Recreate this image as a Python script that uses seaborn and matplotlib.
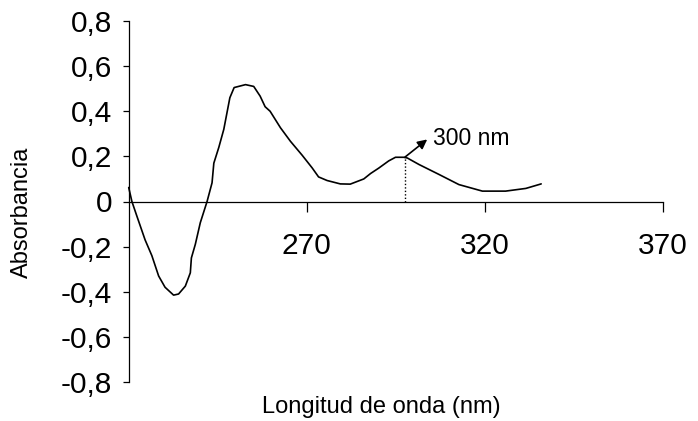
import matplotlib
matplotlib.use("Agg")
import matplotlib.pyplot as plt
import seaborn as sns
import pandas as pd

# Data
wavelength = [220.0, 220.9, 222.3, 224.6, 226.5, 228.4, 230.2, 232.6, 234.0, 235.9,
              237.3, 237.6, 238.7, 240.1, 242.0, 243.4, 243.9, 245.3, 246.7, 248.4,
              249.6, 252.8, 255.1, 256.9, 258.3, 259.7, 262.6, 265.4, 268.7, 271.5,
              273.3, 275.7, 279.4, 282.2, 286.0, 287.9, 290.2, 293.0, 294.9, 297.2,
              298.2, 301.5, 307.1, 312.7, 319.3, 325.8, 331.5, 335.8]
absorbance = [0.062, 0.0, -0.065, -0.17, -0.24, -0.33, -0.38, -0.415, -0.41, -0.375,
              -0.316, -0.25, -0.19, -0.094, 0.0, 0.083, 0.17, 0.24, 0.32, 0.46,
              0.505, 0.518, 0.51, 0.467, 0.42, 0.40, 0.327, 0.267, 0.205, 0.149,
              0.109, 0.093, 0.078, 0.077, 0.10, 0.124, 0.148, 0.18, 0.196, 0.196,
              0.193, 0.164, 0.12, 0.075, 0.046, 0.046, 0.058, 0.078]

x_ticks = [270, 320, 370]
x_tick_labels = ["270", "320", "370"]
y_ticks = [0.8, 0.6, 0.4, 0.2, 0.0, -0.2, -0.4, -0.6, -0.8]
y_tick_labels = ["0,8", "0,6", "0,4", "0,2", "0", "-0,2", "-0,4", "-0,6", "-0,8"]

peak_x = 297.5
peak_y = 0.196
peak_label = "300 nm"
x_label = "Longitud de onda (nm)"
y_label = "Absorbancia"

sns.set_style("white")
plt.rcParams['font.family'] = ['Liberation Sans', 'DejaVu Sans']
plt.rcParams['text.color'] = 'black'
plt.rcParams['xtick.color'] = 'black'
plt.rcParams['ytick.color'] = 'black'
plt.rcParams['axes.labelcolor'] = 'black'

df = pd.DataFrame({"wl": wavelength, "abs": absorbance})

fig = plt.figure(figsize=(6.98, 4.21), dpi=100)
ax = fig.add_axes([128.7 / 698, 1 - 382 / 421, (663 - 128.7) / 698, (382 - 21) / 421])

sns.lineplot(data=df, x="wl", y="abs", ax=ax, color="black", linewidth=1.2,
             sort=False, estimator=None, clip_on=False, zorder=5)

ax.set_xlim(220, 370)
ax.set_ylim(-0.8, 0.8)

ax.spines['top'].set_visible(False)
ax.spines['right'].set_visible(False)
ax.spines['bottom'].set_position(('data', 0))
for s in ['left', 'bottom']:
    ax.spines[s].set_color('black')
    ax.spines[s].set_linewidth(0.9)

ax.set_xticks(x_ticks)
ax.set_xticklabels(x_tick_labels)
ax.set_yticks(y_ticks)
ax.set_yticklabels(y_tick_labels)
ax.tick_params(axis='y', direction='out', length=4, width=0.9, color='black',
               labelcolor='black', labelsize=21.5, pad=8, left=True)
ax.tick_params(axis='x', direction='out', length=7, width=0.9, color='black',
               labelcolor='black', labelsize=21.5, pad=15, bottom=True)
ax.grid(False)
ax.set_xlabel("")
ax.set_ylabel("")

# dotted drop line at the peak
ax.plot([peak_x, peak_x], [0, peak_y], color='black', linestyle=(0, (1, 1.5)),
        linewidth=1.0)
ax.annotate("", xy=(303.8, 0.275), xytext=(peak_x, peak_y),
            arrowprops=dict(arrowstyle='-|>', color='black', lw=1.2,
                            mutation_scale=14, shrinkA=0, shrinkB=0))
ax.text(305.3, 0.28, peak_label, fontsize=16.5, va='center', ha='left', color='black')

fig.text(22 / 698, 1 - 212 / 421, y_label, rotation=90, fontsize=17,
         ha='center', va='center', color='black')
fig.text(381 / 698, 1 - 407 / 421, x_label, fontsize=17, ha='center', va='center',
         color='black')

fig.savefig("out.png", dpi=100)
